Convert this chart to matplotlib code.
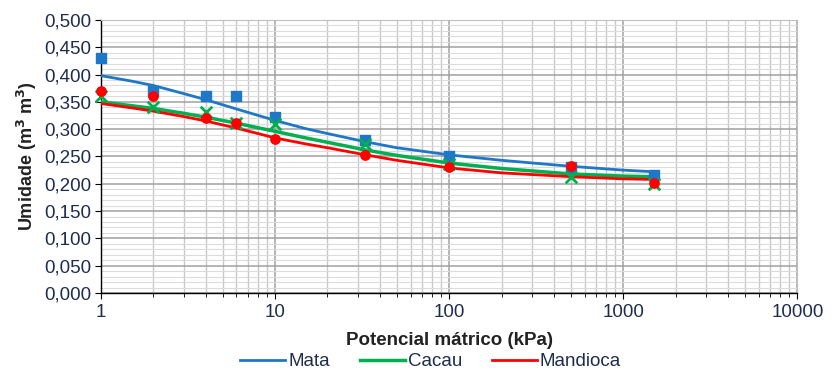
import matplotlib
matplotlib.use("Agg")
import matplotlib.pyplot as plt
from matplotlib.ticker import LogLocator, MultipleLocator, NullFormatter, FuncFormatter
import numpy as np

plt.rcParams['font.family'] = ['Liberation Sans', 'DejaVu Sans']

# Observed data
potencial = [1, 2, 4, 6, 10, 33, 100, 500, 1500]
mata_obs = [0.430, 0.370, 0.360, 0.360, 0.322, 0.280, 0.251, 0.231, 0.216]
cacau_obs = [0.360, 0.340, 0.332, 0.312, 0.310, 0.272, 0.236, 0.212, 0.200]
mandioca_obs = [0.370, 0.361, 0.321, 0.311, 0.282, 0.252, 0.231, 0.232, 0.201]

# Fitted curves
curve_x = [1, 1.5, 2, 3, 4, 6, 10, 15, 20, 33, 50, 100, 200, 500, 1000, 1500]
mata_fit = [0.398, 0.388, 0.380, 0.365, 0.354, 0.337, 0.316, 0.301, 0.292, 0.277, 0.266, 0.253, 0.243, 0.232, 0.225, 0.222]
cacau_fit = [0.350, 0.343, 0.338, 0.329, 0.322, 0.311, 0.296, 0.284, 0.276, 0.262, 0.252, 0.238, 0.228, 0.218, 0.214, 0.213]
mandioca_fit = [0.347, 0.339, 0.333, 0.323, 0.315, 0.302, 0.284, 0.273, 0.266, 0.253, 0.243, 0.229, 0.220, 0.213, 0.209, 0.208]

c_mata = '#1f77c8'
c_cacau = '#00b050'
c_mand = '#ff0000'
fs = 13.5

fig = plt.figure(figsize=(8.38, 3.74), dpi=100)
ax = fig.add_axes([0.1205, 0.2166, 0.831, 0.73])

ax.set_xscale('log')
ax.set_xlim(1, 10000)
ax.set_ylim(0, 0.5)

ax.yaxis.set_major_locator(MultipleLocator(0.05))
ax.yaxis.set_minor_locator(MultipleLocator(0.01))
ax.xaxis.set_major_locator(LogLocator(base=10, numticks=10))
ax.xaxis.set_minor_locator(LogLocator(base=10, subs=np.arange(2, 10), numticks=10))
ax.xaxis.set_minor_formatter(NullFormatter())
ax.xaxis.set_major_formatter(FuncFormatter(lambda v, p: f"{v:.0f}"))
ax.yaxis.set_major_formatter(FuncFormatter(lambda v, p: f"{v:.3f}".replace('.', ',')))

ax.grid(which='minor', axis='y', color='#dcdcdc', lw=0.8)
ax.grid(which='minor', axis='x', color='#c8c8c8', lw=1.0)
ax.grid(which='major', color='#a0a0a0', lw=1.1)
ax.set_axisbelow(True)

for s in ['top', 'right']:
    ax.spines[s].set_color('#bfbfbf')
for s in ['left', 'bottom']:
    ax.spines[s].set_color('black')
    ax.spines[s].set_linewidth(1.0)

ax.tick_params(axis='both', which='major', direction='out', length=4, color='black',
               labelsize=fs, labelcolor='#1f2d4d')
ax.tick_params(axis='x', which='minor', direction='out', length=3, color='black')
ax.tick_params(axis='y', which='minor', length=0)
ax.tick_params(axis='x', which='major', pad=4)
ax.tick_params(axis='y', which='major', pad=3)

ax.plot(curve_x, mata_fit, color=c_mata, lw=2, label='Mata', zorder=3)
ax.plot(curve_x, cacau_fit, color=c_cacau, lw=2.5, label='Cacau', zorder=3)
ax.plot(curve_x, mandioca_fit, color=c_mand, lw=2, label='Mandioca', zorder=3)

ax.scatter(potencial, mata_obs, marker='s', s=55, color=c_mata, zorder=4, clip_on=False)
ax.scatter(potencial, cacau_obs, marker='x', s=70, color=c_cacau, linewidths=2, zorder=4, clip_on=False)
ax.scatter(potencial, mandioca_obs, marker='o', s=45, color=c_mand, zorder=4, clip_on=False)

ax.set_xlabel('Potencial mátrico (kPa)', fontsize=fs, fontweight='bold', color='#222222', labelpad=8)
ax.set_ylabel('Umidade (m$^\\mathbf{3}$ m$^\\mathbf{3}$)', fontsize=fs - 0.5, fontweight='bold',
              color='#222222', labelpad=4)

leg = fig.legend(loc='lower center', bbox_to_anchor=(0.514, -0.035), ncol=3, frameon=False,
                 fontsize=fs, handlelength=2.4, columnspacing=1.6, handletextpad=0.15)
for t in leg.get_texts():
    t.set_color('#1f2d4d')

fig.savefig('out.png', dpi=100)
